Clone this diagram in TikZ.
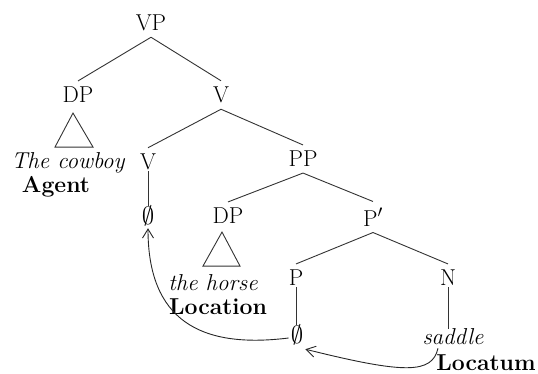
\documentclass[tikz,border=0pt]{standalone}
\usetikzlibrary{arrows.meta,calc}
\begin{document}
\begin{tikzpicture}[x=1pt,y=-1pt,
  lbl/.style={font=\fontsize{23}{27}\selectfont, inner sep=6pt},
  br/.style={draw=black!80, line width=0.9pt},
  vbr/.style={br, shorten <=-5pt, shorten >=-6pt},
  mv/.style={draw=black!85, line width=0.9pt, -{Straight Barb[length=9pt,width=11pt]}}]
\useasboundingbox (0,0) rectangle (538,374);
\node[lbl] (vp) at (151,23) {VP};
\node[lbl] (dp1) at (78,95) {DP};
\node[lbl] (v1) at (221,95) {V};
\node[lbl] (cowboy) at (68,163) {\itshape The cowboy};
\node[lbl] (agent) at (56,187) {\bfseries Agent};
\node[lbl] (v2) at (148,162) {V};
\node[lbl] (pp) at (303,159) {PP};
\node[lbl] (z1) at (148,216) {$\emptyset$};
\node[lbl] (dp2) at (228,216) {DP};
\node[lbl] (horse) at (213,283) {\itshape the horse};
\node[lbl] (loc) at (218,307) {\bfseries Location};
\node[lbl] (pbar) at (373,217) {P$'$};
\node[lbl] (p) at (296,278) {P};
\node[lbl] (n) at (448,278) {N};
\node[lbl] (z2) at (297,335) {$\emptyset$};
\node[lbl] (saddle) at (453,337) {\itshape saddle};
\node[lbl] (locatum) at (486,363) {\bfseries Locatum};
% branches
\draw[br] (vp.south) -- (dp1.north);
\draw[br] (vp.south) -- (v1.north);
\draw[br] (v1.south) -- (v2.north);
\draw[br] (v1.south) -- (pp.north);
\draw[vbr] (v2.south) -- (v2.south |- z1.north);
\draw[br] (pp.south) -- (dp2.north);
\draw[br] (pp.south) -- (pbar.north);
\draw[br] (pbar.south) -- (p.north);
\draw[br] (pbar.south) -- (n.north);
\draw[vbr] (p.south) -- (p.south |- z2.north);
\draw[vbr] (n.south) -- (n.south |- saddle.north);
% triangles
\draw[br] ($(dp1.south)+(-5,4)$) -- ($(dp1.south)+(-23,38)$) -- ($(dp1.south)+(15,38)$) -- cycle;
\draw[br] ($(dp2.south)+(-6,2)$) -- ($(dp2.south)+(-25,36)$) -- ($(dp2.south)+(12,36)$) -- cycle;
% movement arrows
\draw[mv] ($(z2.west)+(4,3)$) .. controls (200,349) and (148,320) .. ($(z1.south)+(0,-4)$);
\draw[mv] ($(saddle.south)+(-15,-3)$) .. controls (432,374) and (405,374) .. ($(z2.south east)+(-4,-2)$);
\end{tikzpicture}
\end{document}
